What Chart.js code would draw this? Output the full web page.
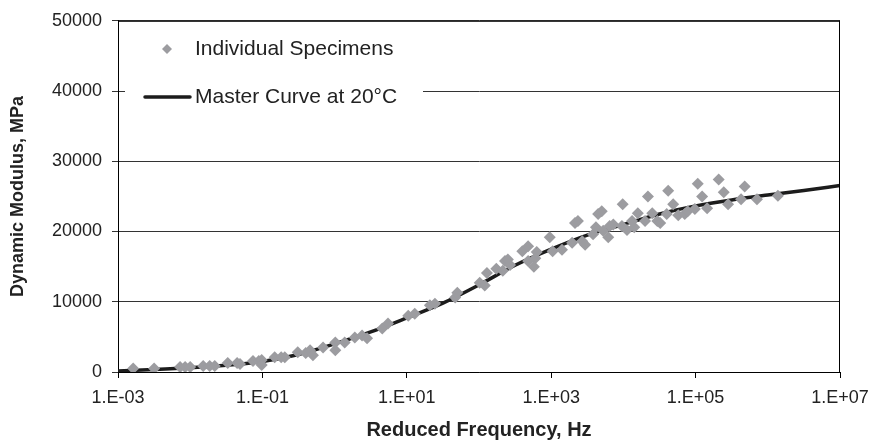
<!DOCTYPE html>
<html><head><meta charset="utf-8">
<script src="https://cdn.jsdelivr.net/npm/chart.js@4.4.1/dist/chart.umd.min.js"></script>
<style>html,body{margin:0;padding:0;background:#fff}#wrap{width:878px;height:442px;position:relative}</style>
</head><body><div id="wrap"><canvas id="c" width="878" height="442"></canvas></div>
<script>
// Reduced frequency stored as log10(Hz)
const specimenLogFreq = [-2.79,-2.50,-2.14,-2.07,-2.00,-1.82,-1.73,-1.66,-1.48,-1.35,-1.31,-1.13,-1.05,-1.01,-1.01,-0.83,-0.74,-0.69,-0.51,-0.40,-0.34,-0.30,-0.16,0.01,0.01,0.14,0.28,0.38,0.45,0.66,0.74,1.02,1.11,1.32,1.39,1.67,1.70,2.01,2.08,2.11,2.24,2.33,2.36,2.40,2.43,2.60,2.68,2.68,2.78,2.76,2.80,2.98,3.02,3.15,3.29,3.33,3.37,3.43,3.47,3.58,3.62,3.65,3.70,3.72,3.79,3.81,3.86,3.98,3.99,4.05,4.12,4.15,4.20,4.30,4.34,4.40,4.47,4.51,4.60,4.62,4.69,4.76,4.85,4.89,4.99,5.03,5.09,5.16,5.32,5.39,5.45,5.63,5.68,5.85,6.14];
const specimenModulus = [500,500,700,700,700,850,850,850,1270,1270,1130,1550,1550,1700,1000,2100,2100,2100,2800,2700,3100,2400,3500,4200,3100,4200,4900,5200,4800,6200,6900,8000,8300,9500,9700,10600,11300,12700,12300,14100,14700,14400,15800,16000,15250,17200,17900,15800,16200,15000,17100,19200,17200,17400,18400,21200,21500,18600,18100,19600,20600,22500,22900,20100,19200,20800,21000,20800,23900,20200,21500,20600,22600,21500,25000,22600,21500,21200,22500,25800,23900,22300,22500,22900,23200,26800,25000,23300,27400,25600,23900,24600,26400,24600,25100];
const masterLogFreq = [-3,-2.5,-2,-1.5,-1,-0.5,0,0.5,1,1.5,2,2.5,3,3.5,4,4.5,5,5.5,6,6.5,7];
const masterModulus = [150,350,600,950,1500,2500,4000,5700,7700,9800,12400,15200,17500,19500,21000,22500,23650,24500,25200,25850,26550];
const xTickValues = [-3,-1,1,3,5,7];
const xTickLabels = ['1.E-03','1.E-01','1.E+01','1.E+03','1.E+05','1.E+07'];
const yTickValues = [0,10000,20000,30000,40000,50000];
const yTickLabels = ['0','10000','20000','30000','40000','50000'];
const seriesNames = ['Individual Specimens','Master Curve at 20\u00B0C'];
const axisTitles = ['Reduced Frequency, Hz','Dynamic Modulus, MPa'];

const FONT = 'Liberation Sans, Arial, Helvetica, sans-serif';
const GRAY = '#9c9ca0';
const DARK = '#1c1c1c';

const legendPlugin = {
  id: 'insideLegend',
  beforeDatasetsDraw(chart) {
    const ctx = chart.ctx;
    ctx.save();
    ctx.fillStyle = '#fff';
    ctx.fillRect(125, 22, 298, 92);
    ctx.fillStyle = GRAY;
    const mx = 167, my = 49, r = 5;
    ctx.beginPath();
    ctx.moveTo(mx, my - r); ctx.lineTo(mx + r, my); ctx.lineTo(mx, my + r); ctx.lineTo(mx - r, my); ctx.closePath();
    ctx.fill();
    ctx.strokeStyle = DARK; ctx.lineWidth = 3.5; ctx.lineCap = 'round';
    ctx.beginPath(); ctx.moveTo(145, 97); ctx.lineTo(190, 97); ctx.stroke();
    ctx.fillStyle = '#222';
    ctx.font = '21px ' + FONT;
    ctx.textBaseline = 'middle';
    ctx.textAlign = 'left';
    ctx.fillText(seriesNames[0], 195, 49);
    ctx.fillText(seriesNames[1], 195, 97);
    ctx.restore();
  },
  afterDraw(chart) {
    const {ctx, chartArea: a} = chart;
    ctx.save();
    ctx.strokeStyle = '#000'; ctx.lineWidth = 1;
    ctx.beginPath();
    ctx.moveTo(a.left, a.top + 0.5); ctx.lineTo(a.right, a.top + 0.5);
    ctx.moveTo(a.right - 0.5, a.top); ctx.lineTo(a.right - 0.5, a.bottom);
    ctx.stroke();
    ctx.restore();
  }
};

new Chart(document.getElementById('c'), {
  type: 'scatter',
  data: {
    datasets: [
      {
        label: seriesNames[0],
        data: specimenLogFreq.map((x, i) => ({x, y: specimenModulus[i]})),
        pointStyle: 'rectRot', pointRadius: 6, pointHoverRadius: 6,
        backgroundColor: GRAY, borderColor: GRAY, borderWidth: 0,
        order: 0
      },
      {
        type: 'line',
        label: seriesNames[1],
        data: masterLogFreq.map((x, i) => ({x, y: masterModulus[i]})),
        borderColor: DARK, borderWidth: 3.5, pointRadius: 0,
        cubicInterpolationMode: 'monotone', fill: false,
        order: 1
      }
    ]
  },
  options: {
    responsive: false, animation: false, devicePixelRatio: 1,
    layout: {padding: {top: 18, right: 38, left: 0, bottom: 0}},
    plugins: {legend: {display: false}, tooltip: {enabled: false}},
    scales: {
      x: {
        type: 'linear', min: -3, max: 7,
        afterBuildTicks: s => { s.ticks = xTickValues.map(v => ({value: v})); },
        afterFit: s => { s.height = 70; },
        ticks: {
          callback: v => xTickLabels[xTickValues.indexOf(v)],
          color: '#222', font: {family: FONT, size: 18}, padding: 9, maxRotation: 0
        },
        grid: {drawOnChartArea: false, drawTicks: true, tickLength: 6, color: '#000'},
        border: {color: '#000', width: 1},
        title: {display: true, text: axisTitles[0], color: '#222',
          font: {family: FONT, size: 20, weight: 'bold'}, padding: {top: 0, bottom: 0}}
      },
      y: {
        min: 0, max: 50000,
        afterBuildTicks: s => { s.ticks = yTickValues.map(v => ({value: v})); },
        afterFit: s => { s.width = 118; },
        ticks: {callback: v => yTickLabels[yTickValues.indexOf(v)],
          color: '#222', font: {family: FONT, size: 18}, padding: 10},
        grid: {color: '#333', lineWidth: 1, tickLength: 6},
        border: {color: '#000', width: 1},
        title: {display: true, text: axisTitles[1], color: '#222',
          font: {family: FONT, size: 18, weight: 'bold'}, padding: {top: 7, bottom: 0}}
      }
    }
  },
  plugins: [legendPlugin]
});
</script></body></html>
